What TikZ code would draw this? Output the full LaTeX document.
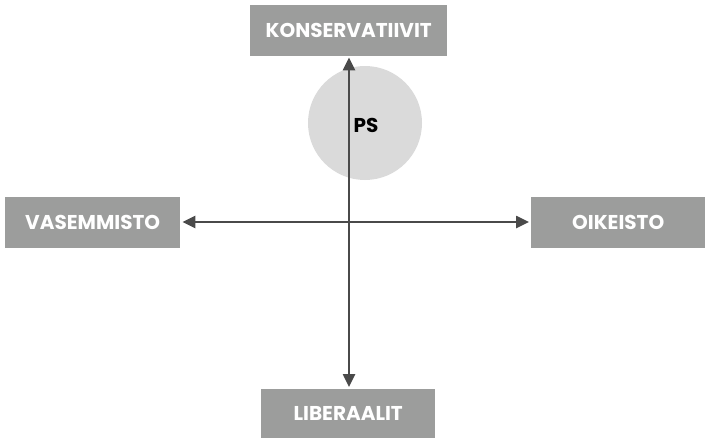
\documentclass[tikz,border=0pt]{standalone}
\usepackage{fontspec}
\setmainfont{Poppins}
\usetikzlibrary{arrows.meta}
\definecolor{boxgray}{HTML}{9C9D9C}
\definecolor{linegray}{HTML}{4A4A4A}
\definecolor{circgray}{HTML}{DADADA}
\begin{document}
\begin{tikzpicture}[x=1pt,y=-1pt,
  pbox/.style={fill=boxgray,text=white,font=\bfseries\fontsize{20}{24}\selectfont,inner sep=0pt,anchor=north west},
  axis/.style={draw=linegray,line width=2.5pt,-{Triangle[length=13pt,width=12pt]}}]
\useasboundingbox (0,0) rectangle (705,439);
\fill[circgray] (365,123) circle (57);
\node[pbox,minimum width=197pt,minimum height=51pt] (kon) at (250,5) {KONSERVATIIVIT};
\node[pbox,minimum width=175pt,minimum height=51pt] (vas) at (5,197) {VASEMMISTO};
\node[pbox,minimum width=174pt,minimum height=51pt] (oik) at (531,197) {OIKEISTO};
\node[pbox,minimum width=174pt,minimum height=49pt] (lib) at (261,389) {LIBERAALIT};
\coordinate (c) at (349,222);
\draw[axis] (c) -- ([yshift=-1pt]c |- kon.south) ;
\draw[axis] (c) -- ([yshift=2pt]c |- lib.north);
\draw[axis] (c) -- ([xshift=2pt]c -| vas.east);
\draw[axis] (c) -- ([xshift=-2pt]c -| oik.west);
\node[font=\bfseries\fontsize{20}{24}\selectfont,text=black,inner sep=0pt] (ps) at (366,125) {PS};
\end{tikzpicture}
\end{document}
